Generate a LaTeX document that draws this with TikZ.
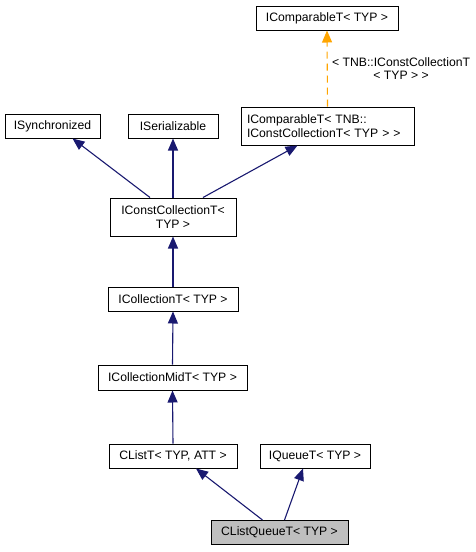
\documentclass[tikz,border=0pt]{standalone}
\usepackage{fontspec}
\setmainfont{Liberation Sans}
\usetikzlibrary{arrows.meta}
\definecolor{edgeblue}{HTML}{191970}
\definecolor{edgeorange}{HTML}{FFA500}
\definecolor{hilite}{HTML}{BFBFBF}
\tikzset{
  cls/.style={draw=black, line width=1pt, fill=white, inner sep=0pt, font=\fontsize{12.2}{13.5}\selectfont, align=center},
  inh/.style={draw=edgeblue, line width=1.1pt, -{Triangle[length=12pt,width=10pt]}},
  tmpl/.style={draw=edgeorange, line width=1.1pt, dash pattern=on 7pt off 5pt, -{Triangle[length=12pt,width=10pt]}},
}
\begin{document}
\begin{tikzpicture}[x=1pt,y=-1pt]
\useasboundingbox (0,0) rectangle (475,552);
\node[cls, minimum width=142pt, minimum height=24pt] (cmp) at (327,18) {IComparableT< TYP >};
\node[cls, minimum width=95pt, minimum height=24pt] (sync) at (52.5,126) {ISynchronized};
\node[cls, minimum width=90pt, minimum height=24pt] (ser) at (173,126) {ISerializable};
\node[cls, minimum width=173pt, minimum height=38pt, align=left, text width=161pt, inner xsep=6pt] (cmpc) at (327.5,126) {IComparableT< TNB::\\IConstCollectionT< TYP > >};
\node[cls, minimum width=126pt, minimum height=38pt] (ccol) at (173,217) {IConstCollectionT<\\TYP >};
\node[cls, minimum width=130pt, minimum height=24pt] (col) at (173,299) {ICollectionT< TYP >};
\node[cls, minimum width=149pt, minimum height=25pt] (mid) at (172.5,377.5) {ICollectionMidT< TYP >};
\node[cls, minimum width=128pt, minimum height=24pt] (list) at (173,456) {CListT< TYP, ATT >};
\node[cls, minimum width=110pt, minimum height=24pt] (que) at (315,456) {IQueueT< TYP >};
\node[cls, fill=hilite, minimum width=137pt, minimum height=24pt] (clq) at (279.5,532.5) {CListQueueT< TYP >};

\draw[tmpl] (cmpc.north) -- (cmp.south)
  node[midway, right=1pt, font=\fontsize{12.2}{13.5}\selectfont, align=center, text=black] {< TNB::IConstCollectionT\\< TYP > >};
\draw[inh] ([xshift=-23pt]ccol.north) -- ([xshift=20pt]sync.south);
\draw[inh] (ccol.north) -- (ser.south);
\draw[inh] ([xshift=30pt]ccol.north) -- ([xshift=-30pt]cmpc.south);
\draw[inh] (col.north) -- (ccol.south);
\draw[inh] (mid.north) -- (col.south);
\draw[inh] (list.north) -- (mid.south);
\draw[inh] ([xshift=-17pt]clq.north) -- ([xshift=23pt]list.south);
\draw[inh] ([xshift=5pt]clq.north) -- ([xshift=-12pt]que.south);
\end{tikzpicture}
\end{document}
